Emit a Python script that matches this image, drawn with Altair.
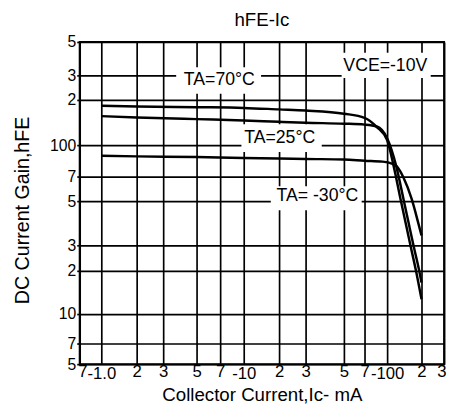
import altair as alt
import pandas as pd

# ---- axis ticks and labels ----
ic_ticks = [0.7, 1, 2, 3, 5, 7, 10, 20, 30, 50, 70, 100, 200, 300]
ic_labels = ["7", "-1.0", "2", "3", "5", "7", "-10", "2", "3", "5", "7", "-100", "2", "3"]
hfe_ticks = [5, 7, 10, 20, 30, 50, 70, 100, 200, 300, 500]
hfe_labels = ["5", "7", "10", "2", "3", "5", "7", "100", "2", "3", "5"]

# ---- curves (Ic magnitude in mA, hFE) ----
ic_70 = [1, 2, 5, 10, 20, 30, 50, 70, 85, 100, 114, 131, 145, 160, 179, 200]
hfe_70 = [183, 181, 179, 177, 173, 170, 162, 152, 132, 108, 79, 51.5, 39, 30, 20, 12.7]
ic_25 = [1, 2, 5, 10, 20, 30, 50, 70, 85, 100, 120, 139, 154, 170, 191, 200]
hfe_25 = [156, 153, 149, 146, 143, 141, 139, 137, 133, 111, 79, 51.5, 39, 30, 20, 16.6]
ic_m30 = [1, 2, 5, 10, 20, 30, 50, 70, 93, 110, 121, 130, 139, 164, 187, 200]
hfe_m30 = [88.6, 88, 87.3, 86.4, 86, 85.5, 85, 83.8, 82.9, 81, 78.7, 74.4, 69, 51.5, 39, 33.6]

# ---- annotations ----
ann_text = ["TA=70°C", "TA=25°C", "TA= -30°C", "VCE=-10V"]
ann_x = [6.92, 20.2, 35.1, 97.2]
ann_y = [278, 110.7, 53.6, 344]
box_x1 = [3.66, 9.66, 17.0, 48.5]
box_x2 = [14.05, 37.2, 66.8, 236]
box_y1 = [340, 137.6, 61.3, 424.5]
box_y2 = [221.5, 92.6, 45, 287]

# ---- scale layout (grid positions of the printed chart) ----
X_RANGE = [0, 22, 58, 85, 119, 143, 167, 203, 230, 269, 290, 313, 348, 371]
Y_RANGE = [328, 307, 277, 233, 207, 162, 137, 105, 59, 34, 0]
FONT = "Liberation Sans"


def label_expr(ticks, labels):
    expr = "''"
    for t, l in reversed(list(zip(ticks, labels))):
        expr = f"datum.value == {t} ? '{l}' : ({expr})"
    return expr


rows = []
for name, xs_, ys_ in [("70", ic_70, hfe_70), ("25", ic_25, hfe_25), ("-30", ic_m30, hfe_m30)]:
    for xv, yv in zip(xs_, ys_):
        rows.append({"T": name, "Ic": xv, "hFE": yv})
curves = pd.DataFrame(rows)
ann = pd.DataFrame({"text": ann_text, "Ic": ann_x, "hFE": ann_y})
boxes = pd.DataFrame({"Ic": box_x1, "x2": box_x2, "hFE": box_y1, "y2": box_y2})

xs = alt.Scale(type="log", domain=ic_ticks, range=X_RANGE, nice=False)
ys = alt.Scale(type="log", domain=hfe_ticks, range=Y_RANGE, nice=False)

decade_test = "datum.value == 1 || datum.value == 10 || datum.value == 100"

x_axis = alt.Axis(
    values=ic_ticks,
    labelExpr=label_expr(ic_ticks, ic_labels),
    grid=True, gridColor="black", gridWidth=1.7, gridOpacity=1,
    domain=False, ticks=False, tickSize=0,
    labelPadding={"condition": {"test": decade_test, "value": 2}, "value": 0},
    labelFont=FONT, labelFontSize=17, labelColor="black",
    labelOverlap=False, labelFlush=True, labelFlushOffset=2,
    title="Collector Current,Ic- mA", titleFont=FONT, titleFontSize=19,
    titleFontWeight="normal", titleColor="black",
    titleBaseline="alphabetic", titleY=37,
)
y_axis = alt.Axis(
    values=hfe_ticks,
    labelExpr=label_expr(hfe_ticks, hfe_labels),
    grid=True, gridColor="black", gridWidth=1.7, gridOpacity=1,
    domain=False, ticks=True, tickSize=3, tickColor="black", tickWidth=1.7,
    labelPadding=1,
    labelFont=FONT, labelFontSize=16, labelColor="black",
    labelOverlap=False,
    title="DC Current Gain,hFE", titleFont=FONT, titleFontSize=20,
    titleFontWeight="normal", titleColor="black",
    titleBaseline="alphabetic", titleX=-52, titleY=171,
)

X = alt.X("Ic:Q", scale=xs, axis=x_axis)
Y = alt.Y("hFE:Q", scale=ys, axis=y_axis)

box_layer = alt.Chart(boxes).mark_rect(color="white", opacity=1).encode(
    x=X, x2="x2:Q", y=Y, y2="y2:Q",
)

line_layer = alt.Chart(curves).mark_line(color="black", strokeWidth=2.5, interpolate="monotone").encode(
    x=X, y=Y, detail="T:N", order="Ic:Q",
)

text_layer = alt.Chart(ann).mark_text(
    font=FONT, fontSize=18, color="black", align="center", baseline="middle"
).encode(
    x=X, y=Y, text="text:N",
)

chart = alt.layer(box_layer, line_layer, text_layer).properties(
    width=371,
    height=328,
    background="white",
    title=alt.TitleParams("hFE-Ic", font=FONT, fontSize=19, fontWeight="normal",
                          color="black", anchor="middle", frame="group", offset=4),
    autosize=alt.AutoSizeParams(type="none"),
    padding={"left": 73, "top": 31, "right": 5, "bottom": 39},
).configure_view(stroke="black", strokeWidth=2)

chart.save("out.html", embed_options={"renderer": "svg", "actions": False})
